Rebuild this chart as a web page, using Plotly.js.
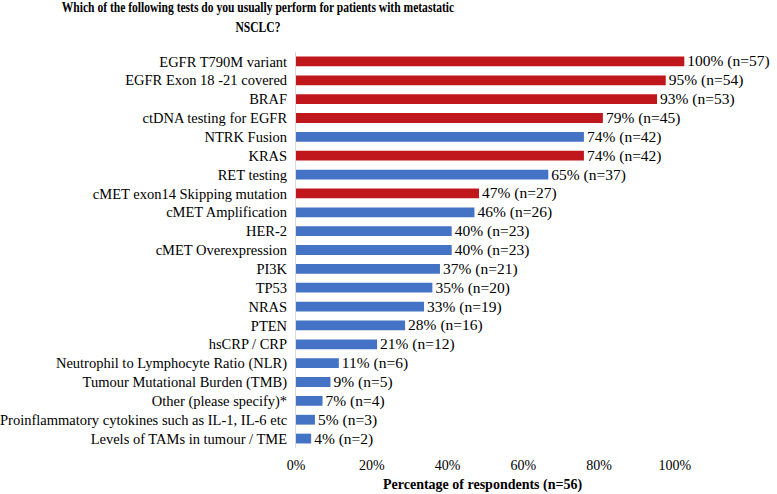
<!DOCTYPE html>
<html>
<head>
<meta charset="utf-8">
<script src="https://cdn.plot.ly/plotly-3.0.1.min.js"></script>
<style>html,body{margin:0;padding:0;background:#fff;}#chart{width:777px;height:494px;}</style>
</head>
<body>
<div id="chart"></div>
<script>
var categories = [
  "EGFR T790M variant",
  "EGFR Exon 18 -21 covered",
  "BRAF",
  "ctDNA testing for EGFR",
  "NTRK Fusion",
  "KRAS",
  "RET testing",
  "cMET exon14 Skipping mutation",
  "cMET Amplification",
  "HER-2",
  "cMET Overexpression",
  "PI3K",
  "TP53",
  "NRAS",
  "PTEN",
  "hsCRP / CRP",
  "Neutrophil to Lymphocyte Ratio (NLR)",
  "Tumour Mutational Burden (TMB)",
  "Other (please specify)*",
  "Proinflammatory cytokines such as IL-1, IL-6 etc",
  "Levels of TAMs in tumour / TME"
];
var barValues = [102.5, 97.6, 95.3, 81.0, 76.0, 76.0, 66.6, 48.3, 47.1, 41.1, 41.1, 38.0, 36.0, 33.8, 28.8, 21.4, 11.3, 9.1, 7.0, 5.0, 4.0];
var valueLabels = ["100% (n=57)", "95% (n=54)", "93% (n=53)", "79% (n=45)", "74% (n=42)", "74% (n=42)", "65% (n=37)", "47% (n=27)", "46% (n=26)", "40% (n=23)", "40% (n=23)", "37% (n=21)", "35% (n=20)", "33% (n=19)", "28% (n=16)", "21% (n=12)", "11% (n=6)", "9% (n=5)", "7% (n=4)", "5% (n=3)", "4% (n=2)"];
var highlighted = [true, true, true, true, false, true, false, true, false, false, false, false, false, false, false, false, false, false, false, false, false];
var tickValues = [0, 20, 40, 60, 80, 100];
var tickLabels = ["0%", "20%", "40%", "60%", "80%", "100%"];
var chartTitle = "Which of the following tests do you usually perform for patients with metastatic<br>NSCLC?";
var xTitle = "Percentage of respondents (n=56)";

var RED = "#C0171D", BLUE = "#4472C4";
var colors = highlighted.map(function(h){ return h ? RED : BLUE; });
var SERIF = "Liberation Serif, Times New Roman, serif";

var trace = {
  type: "bar",
  orientation: "h",
  y: categories,
  x: barValues,
  text: valueLabels,
  textposition: "outside",
  constraintext: "none",
  cliponaxis: false,
  textfont: {family: SERIF, size: 15.5, color: "#000"},
  marker: {color: colors},
  hoverinfo: "skip"
};

var layout = {
  width: 777, height: 494,
  paper_bgcolor: "#fff", plot_bgcolor: "#fff",
  font: {family: SERIF, size: 14, color: "#000"},
  margin: {l: 296, r: 87, t: 52, b: 46},
  title: {
    text: "<b>" + chartTitle + "</b>",
    x: 0.332, xref: "container", xanchor: "center",
    y: 0.975, yref: "container", yanchor: "top",
    font: {family: SERIF, size: 15.5, color: "#000"}
  },
  bargap: 0.48,
  showlegend: false,
  xaxis: {
    range: [0, 104],
    tickvals: tickValues,
    ticktext: tickLabels,
    showgrid: false,
    zeroline: false,
    showline: false,
    ticks: "",
    ticklabelstandoff: 7,
    tickfont: {size: 14}
  },
  yaxis: {
    categoryorder: "array",
    categoryarray: categories,
    autorange: "reversed",
    showgrid: false,
    zeroline: false,
    showline: true,
    linecolor: "#D9D9D9",
    linewidth: 1,
    ticks: "outside",
    ticklen: 5,
    tickcolor: "rgba(0,0,0,0)",
    tickfont: {size: 14.5}
  },
  annotations: [{
    text: "<b>" + xTitle + "</b>",
    xref: "paper", yref: "paper",
    x: 0.4746, y: -0.093,
    xanchor: "center", yanchor: "middle",
    showarrow: false,
    font: {family: SERIF, size: 14, color: "#000"}
  }]
};

Plotly.newPlot("chart", [trace], layout, {displayModeBar: false, staticPlot: true}).then(function(){
  // condense the title horizontally, like the reference's narrow bold face
  var t = document.querySelector("text.gtitle");
  if (t) {
    var bb = t.getBBox();
    var sx = 393 / bb.width;
    var cx = bb.x + bb.width / 2;
    var prev = t.getAttribute("transform") || "";
    t.setAttribute("transform", prev + " translate(" + cx + ",0) scale(" + sx + ",1) translate(" + (-cx) + ",0)");
  }
});
</script>
</body>
</html>
